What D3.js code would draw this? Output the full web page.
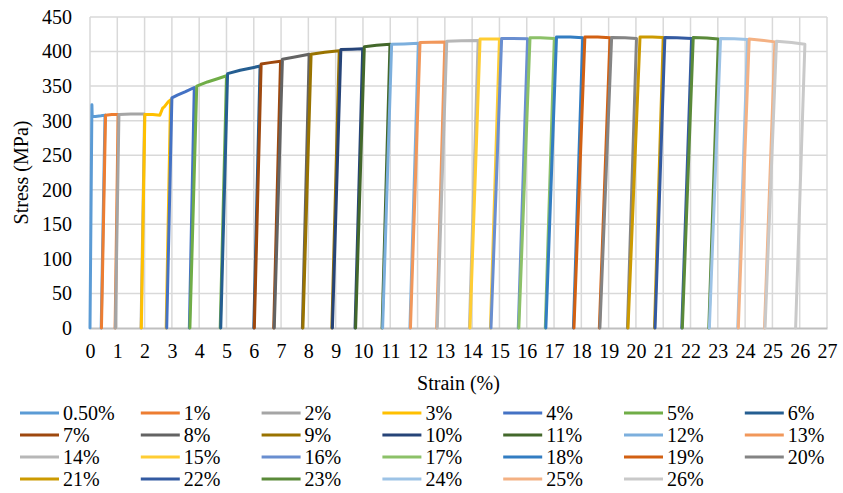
<!DOCTYPE html>
<html>
<head>
<meta charset="utf-8">
<script src="https://cdn.jsdelivr.net/npm/d3@7"></script>
</head>
<body style="margin:0">
<svg id="chart" width="843" height="493" font-family="Liberation Serif"></svg>
<script>
// ---------- DATA ----------
const seriesNames = ["0.50%","1%","2%","3%","4%","5%","6%","7%","8%","9%","10%","11%","12%","13%",
  "14%","15%","16%","17%","18%","19%","20%","21%","22%","23%","24%","25%","26%"];

// strain (%) values for each series
const strainData = [
  [0, 0.07, 0.08, 0.2, 0.4, 0.55, 0.41],
  [0.42, 0.57, 0.8, 1.03, 0.92],
  [0.93, 1.06, 1.5, 2.0, 1.87],
  [1.88, 2.01, 2.3, 2.56, 2.66, 2.72, 2.87, 2.95, 2.79],
  [2.81, 3.0, 3.2, 3.5, 3.82, 3.64],
  [3.66, 3.91, 4.3, 4.7, 5.0, 4.77],
  [4.79, 5.04, 5.5, 6.0, 6.23, 6.0],
  [6.02, 6.27, 6.6, 6.98, 6.73],
  [6.75, 7.05, 7.5, 8.03, 7.78],
  [7.80, 8.10, 8.6, 9.13, 8.86],
  [8.88, 9.19, 9.6, 9.99, 9.71],
  [9.73, 10.05, 10.5, 10.99, 10.70],
  [10.72, 11.05, 11.5, 12.03, 11.72],
  [11.74, 12.09, 12.5, 13.0, 12.70],
  [12.72, 13.07, 13.6, 14.22, 13.90],
  [13.92, 14.29, 14.6, 15.0, 14.67],
  [14.69, 15.08, 15.5, 16.03, 15.69],
  [15.71, 16.12, 16.5, 17.01, 16.68],
  [16.70, 17.09, 17.6, 18.05, 17.71],
  [17.73, 18.13, 18.6, 19.05, 18.66],
  [18.68, 19.11, 19.6, 20.02, 19.69],
  [19.71, 20.15, 20.6, 21.0, 20.68],
  [20.70, 21.06, 21.5, 22.04, 21.68],
  [21.70, 22.1, 22.6, 23.02, 22.67],
  [22.69, 23.1, 23.6, 24.09, 23.73],
  [23.75, 24.15, 24.6, 25.09, 24.71],
  [24.73, 25.15, 25.7, 26.19, 25.85]
];

// stress (MPa) values for each series
const stressData = [
  [0, 323, 306, 306, 307, 308, 0],
  [0, 308, 309, 309, 0],
  [0, 309, 309.5, 309.5, 0],
  [0, 309, 309, 308, 318, 320, 327.5, 330, 0],
  [0, 333, 337, 342, 348, 0],
  [0, 350, 356, 361, 365, 0],
  [0, 368, 373, 377, 379, 0],
  [0, 382, 384, 386, 0],
  [0, 389, 392, 396, 0],
  [0, 396, 399, 401, 0],
  [0, 403, 403.5, 404, 0],
  [0, 407, 409, 410.5, 0],
  [0, 410.5, 411, 412, 0],
  [0, 413, 413.5, 414, 0],
  [0, 415, 415.5, 416, 0],
  [0, 418, 418, 418, 0],
  [0, 419, 419, 418.5, 0],
  [0, 420, 420, 419, 0],
  [0, 421, 421, 420, 0],
  [0, 421, 421, 420, 0],
  [0, 420.5, 420, 419, 0],
  [0, 421, 421, 420.5, 0],
  [0, 420.5, 420, 419, 0],
  [0, 420.5, 419.5, 418, 0],
  [0, 419, 418.5, 417.5, 0],
  [0, 418, 416.5, 414, 0],
  [0, 415, 413, 410.5, 0]
];

const xTicks = d3.range(0, 28, 1);
const yTicks = [0, 50, 100, 150, 200, 250, 300, 350, 400, 450];

// ---------- STYLE ----------
const colors = ["#5B9BD5","#ED7D31","#A5A5A5","#FFC000","#4472C4","#70AD47",
  "#255E91","#9E480E","#636363","#997300","#264478","#43682B",
  "#7CAFDD","#F1975A","#B7B7B7","#FFCD33","#698ED0","#8CC168",
  "#327DC2","#D26012","#848484","#CC9A00","#335AA1","#5A8A39",
  "#9DC3E6","#F4B183","#C9C9C9"];

const FS = "20px";
function serif(sel) {
  return sel.attr("font-family", "Liberation Serif").style("font-family", '"Liberation Serif"').style("font-size", FS);
}

const svg = d3.select("#chart");
const x = d3.scaleLinear().domain([0, 27]).range([90, 827]);
const y = d3.scaleLinear().domain([0, 450]).range([328, 17]);

// gridlines
svg.append("g").selectAll("line").data(yTicks.filter(d => d > 0)).join("line")
  .attr("x1", x(0)).attr("x2", x(27))
  .attr("y1", d => y(d)).attr("y2", d => y(d))
  .attr("stroke", "#d9d9d9").attr("stroke-width", 1.5);
svg.append("g").selectAll("line").data(xTicks).join("line")
  .attr("x1", d => x(d)).attr("x2", d => x(d))
  .attr("y1", y(0)).attr("y2", y(450))
  .attr("stroke", "#d9d9d9").attr("stroke-width", 1.5);

// axes
const xAxis = d3.axisBottom(x).tickValues(xTicks).tickSize(0).tickPadding(16).tickFormat(d3.format("d"));
const gx = svg.append("g").attr("transform", `translate(0,${y(0)})`).call(xAxis);
gx.attr("font-family", "Liberation Serif").attr("font-size", 20);
gx.select(".domain").attr("stroke", "#bfbfbf").attr("stroke-width", 2);
serif(gx.selectAll("text")).attr("fill", "#000");

const yAxis = d3.axisLeft(y).tickValues(yTicks).tickSize(0).tickPadding(18);
const gy = svg.append("g").attr("transform", `translate(${x(0)},0)`).call(yAxis);
gy.attr("font-family", "Liberation Serif").attr("font-size", 20);
gy.select(".domain").remove();
serif(gy.selectAll("text")).attr("fill", "#000");

// series lines
const line = d3.line().x(d => x(d[0])).y(d => y(d[1]));
seriesNames.forEach((name, i) => {
  const pts = strainData[i].map((s, j) => [s, stressData[i][j]]);
  svg.append("path").datum(pts)
    .attr("d", line)
    .attr("fill", "none")
    .attr("stroke", colors[i])
    .attr("stroke-width", 3)
    .attr("stroke-linejoin", "round")
    .attr("stroke-linecap", "round");
});

// axis titles
serif(svg.append("text")).attr("x", (x(0) + x(27)) / 2).attr("y", 390)
  .attr("text-anchor", "middle").text("Strain (%)");
serif(svg.append("text")).attr("transform", `translate(21,${(y(0) + y(450)) / 2}) rotate(-90)`)
  .attr("text-anchor", "middle").attr("dominant-baseline", "central")
  .text("Stress (MPa)");

// legend
const legend = svg.append("g");
seriesNames.forEach((name, i) => {
  const col = i % 7, row = Math.floor(i / 7);
  const lx = 20 + col * 120.8, ly = 413 + row * 22;
  legend.append("line").attr("x1", lx).attr("x2", lx + 39).attr("y1", ly).attr("y2", ly)
    .attr("stroke", colors[i]).attr("stroke-width", 3);
  serif(legend.append("text")).attr("x", lx + 43).attr("y", ly).attr("dy", "0.35em")
    .text(name);
});
</script>
</body>
</html>
